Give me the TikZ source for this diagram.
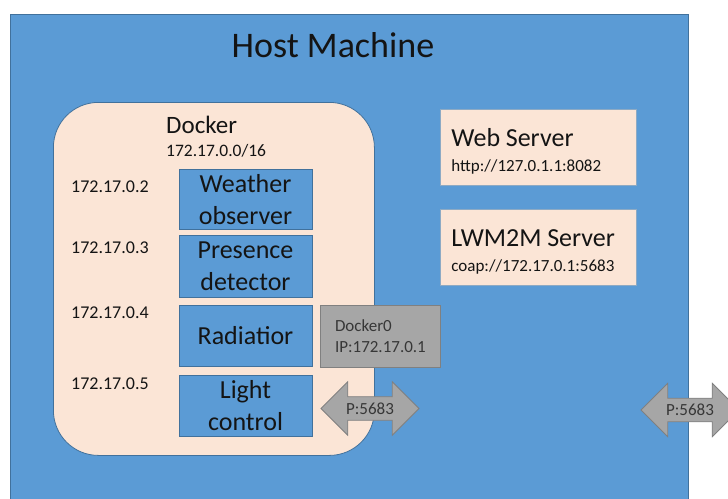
\documentclass[tikz,border=0pt]{standalone}
\usepackage{fontspec}
\setmainfont{Carlito}
\usepackage{tikz}
\usetikzlibrary{shapes.arrows,positioning}
\definecolor{hostblue}{RGB}{91,155,213}
\definecolor{hostedge}{RGB}{65,113,156}
\definecolor{dockpeach}{RGB}{251,229,214}
\definecolor{bridgegrey}{RGB}{166,166,166}
\definecolor{bridgeedge}{RGB}{128,128,128}
\definecolor{inktext}{RGB}{20,20,20}

\begin{document}
\begin{tikzpicture}[x=1pt, y=-1pt,
    hostbox/.style={rectangle, draw=hostedge, fill=hostblue, line width=0.8pt,
                    anchor=north west, inner sep=0pt},
    dockbox/.style={rectangle, draw=hostedge, fill=dockpeach, line width=0.8pt,
                    rounded corners=45pt, anchor=north west, inner sep=0pt},
    cont/.style={rectangle, draw=hostedge, fill=hostblue, line width=0.8pt,
                 minimum width=133pt, anchor=north, align=center, inner sep=0pt,
                 text=inktext, font=\fontsize{26}{32}\selectfont},
    server/.style={rectangle, draw=hostedge!60, fill=dockpeach, line width=0.8pt,
                   minimum height=76pt, anchor=north west,
                   text width=174pt, inner xsep=11pt, align=left, text height=26pt,
                   text=inktext, font=\fontsize{17}{25}\selectfont},
    bridge/.style={rectangle, draw=bridgeedge, fill=bridgegrey, line width=0.8pt,
                   minimum width=120pt, minimum height=62pt, anchor=north west,
                   align=left, text=inktext!85, font=\fontsize{17}{21}\selectfont},
    port/.style={double arrow, draw=bridgeedge, fill=bridgegrey, line width=0.8pt,
                 double arrow head extend=15pt, minimum height=98pt,
                 inner xsep=0pt, inner ysep=5.5pt,
                 text=inktext!85, font=\fontsize{17}{20}\selectfont},
    ipaddr/.style={anchor=base west, inner sep=0pt, text=inktext,
                   font=\fontsize{18}{20}\selectfont},
  ]
  \useasboundingbox (0,0) rectangle (728,498);

  % Host
  \node[hostbox, minimum width=678pt, minimum height=500pt] (host) at (10,14) {};
  \node[anchor=base, inner sep=0pt, text=inktext,
        font=\fontsize{36}{40}\selectfont] (hosttitle) at (333,57) {Host Machine};

  % Docker
  \node[dockbox, minimum width=321pt, minimum height=353pt] (docker) at (53,102) {};
  \node[anchor=base west, inner sep=0pt, text=inktext,
        font=\fontsize{25}{28}\selectfont] (dockertitle) at (166,133) {Docker};
  \node[anchor=base west, inner sep=0pt, text=inktext,
        font=\fontsize{17.5}{20}\selectfont] (dockernet) at (166,156) {172.17.0.0/16};

  % Kontejneri i adrese
  \foreach \nm/\ytop/\hgt/\lbl/\ip/\ipy in {weather/169/60/{Weather\\observer}/2/192.5,
      presence/235/62/{Presence\\detector}/3/253,
      radiator/305/61/Radiatior/4/318,
      light/375/61/{Light\\control}/5/389} {
    \node[cont, minimum height=\hgt pt] (\nm) at (245.5,\ytop) {\lbl};
    \node[ipaddr] (ip\nm) at (71,\ipy) {172.17.0.\ip};
  }

  % Most
  \node[bridge] (docker0) at (320,305) {Docker0\\IP:172.17.0.1};

  % Portovi
  \node[port] (port1) at (370,408.5) {P:5683};
  \node[port] (port2) at (690,410) {P:5683};

  % Serveri
  \node[server] (web) at (440,109)
    {{\fontsize{26}{25}\selectfont Web Server}\\http://127.0.1.1:8082};
  \node[server] (lwm2m) at (440,209)
    {{\fontsize{26}{25}\selectfont LWM2M Server}\\coap://172.17.0.1:5683};
\end{tikzpicture}
\end{document}
